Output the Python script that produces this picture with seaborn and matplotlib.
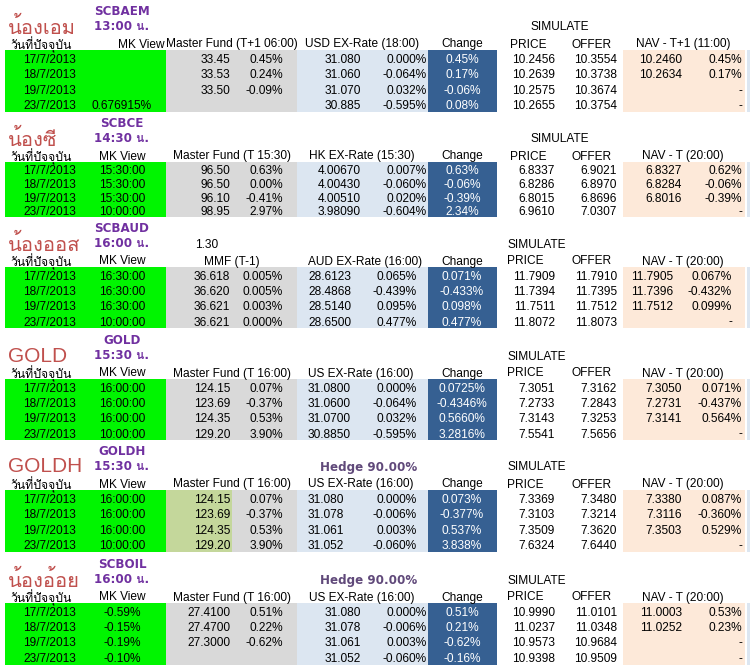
import matplotlib
matplotlib.use("Agg")
import matplotlib.pyplot as plt
from matplotlib.patches import Rectangle
import seaborn as sns

# ---- data ----
dates = ["17/7/2013", "18/7/2013", "19/7/2013", "23/7/2013"]

names = ["น้องเอม", "น้องซี", "น้องออส", "GOLD", "GOLDH", "น้องอ้อย"]
codes = ["SCBAEM", "SCBCE", "SCBAUD", "GOLD", "GOLDH", "SCBOIL"]
cut_times = ["13:00 น.", "14:30 น.", "16:00 น.", "15:30 น.", "15:30 น.", "16:00 น."]
mf_headers = ["Master Fund (T+1 06:00)", "Master Fund (T 15:30)", "MMF (T-1)",
              "Master Fund (T 16:00)", "Master Fund (T 16:00)", "Master Fund (T 16:00)"]
fx_headers = ["USD EX-Rate (18:00)", "HK EX-Rate (15:30)", "AUD EX-Rate (16:00)",
              "US EX-Rate (16:00)", "US EX-Rate (16:00)", "US EX-Rate (16:00)"]
nav_headers = ["NAV - T+1 (11:00)", "NAV - T (20:00)", "NAV - T (20:00)",
               "NAV - T (20:00)", "NAV - T (20:00)", "NAV - T (20:00)"]
extra_notes = ["", "", "1.30", "", "Hedge 90.00%", "Hedge 90.00%"]

aem_mk = ["", "", "", "0.676915%"]
aem_mf = ["33.45", "33.53", "33.50", ""]
aem_mf_pct = ["0.45%", "0.24%", "-0.09%", ""]
aem_fx = ["31.080", "31.060", "31.070", "30.885"]
aem_fx_pct = ["0.000%", "-0.064%", "0.032%", "-0.595%"]
aem_chg = ["0.45%", "0.17%", "-0.06%", "0.08%"]
aem_price = ["10.2456", "10.2639", "10.2575", "10.2655"]
aem_offer = ["10.3554", "10.3738", "10.3674", "10.3754"]
aem_nav = ["10.2460", "10.2634", "", ""]
aem_nav_pct = ["0.45%", "0.17%", "-", "-"]

ce_mk = ["15:30:00", "15:30:00", "15:30:00", "10:00:00"]
ce_mf = ["96.50", "96.50", "96.10", "98.95"]
ce_mf_pct = ["0.63%", "0.00%", "-0.41%", "2.97%"]
ce_fx = ["4.00670", "4.00430", "4.00510", "3.98090"]
ce_fx_pct = ["0.007%", "-0.060%", "0.020%", "-0.604%"]
ce_chg = ["0.63%", "-0.06%", "-0.39%", "2.34%"]
ce_price = ["6.8337", "6.8286", "6.8015", "6.9610"]
ce_offer = ["6.9021", "6.8970", "6.8696", "7.0307"]
ce_nav = ["6.8327", "6.8284", "6.8016", ""]
ce_nav_pct = ["0.62%", "-0.06%", "-0.39%", "-"]

aud_mk = ["16:30:00", "16:30:00", "16:30:00", "10:00:00"]
aud_mf = ["36.618", "36.620", "36.621", "36.621"]
aud_mf_pct = ["0.005%", "0.005%", "0.003%", "0.000%"]
aud_fx = ["28.6123", "28.4868", "28.5140", "28.6500"]
aud_fx_pct = ["0.065%", "-0.439%", "0.095%", "0.477%"]
aud_chg = ["0.071%", "-0.433%", "0.098%", "0.477%"]
aud_price = ["11.7909", "11.7394", "11.7511", "11.8072"]
aud_offer = ["11.7910", "11.7395", "11.7512", "11.8073"]
aud_nav = ["11.7905", "11.7396", "11.7512", ""]
aud_nav_pct = ["0.067%", "-0.432%", "0.099%", "-"]

gold_mk = ["16:00:00", "16:00:00", "16:00:00", "10:00:00"]
gold_mf = ["124.15", "123.69", "124.35", "129.20"]
gold_mf_pct = ["0.07%", "-0.37%", "0.53%", "3.90%"]
gold_fx = ["31.0800", "31.0600", "31.0700", "30.8850"]
gold_fx_pct = ["0.000%", "-0.064%", "0.032%", "-0.595%"]
gold_chg = ["0.0725%", "-0.4346%", "0.5660%", "3.2816%"]
gold_price = ["7.3051", "7.2733", "7.3143", "7.5541"]
gold_offer = ["7.3162", "7.2843", "7.3253", "7.5656"]
gold_nav = ["7.3050", "7.2731", "7.3141", ""]
gold_nav_pct = ["0.071%", "-0.437%", "0.564%", "-"]

goldh_mk = ["16:00:00", "16:00:00", "16:00:00", "10:00:00"]
goldh_mf = ["124.15", "123.69", "124.35", "129.20"]
goldh_mf_pct = ["0.07%", "-0.37%", "0.53%", "3.90%"]
goldh_fx = ["31.080", "31.078", "31.061", "31.052"]
goldh_fx_pct = ["0.000%", "-0.006%", "0.003%", "-0.060%"]
goldh_chg = ["0.073%", "-0.377%", "0.537%", "3.838%"]
goldh_price = ["7.3369", "7.3103", "7.3509", "7.6324"]
goldh_offer = ["7.3480", "7.3214", "7.3620", "7.6440"]
goldh_nav = ["7.3380", "7.3116", "7.3503", ""]
goldh_nav_pct = ["0.087%", "-0.360%", "0.529%", "-"]

oil_mk = ["-0.59%", "-0.15%", "-0.19%", "-0.10%"]
oil_mf = ["27.4100", "27.4700", "27.3000", ""]
oil_mf_pct = ["0.51%", "0.22%", "-0.62%", ""]
oil_fx = ["31.080", "31.078", "31.061", "31.052"]
oil_fx_pct = ["0.000%", "-0.006%", "0.003%", "-0.060%"]
oil_chg = ["0.51%", "0.21%", "-0.62%", "-0.16%"]
oil_price = ["10.9990", "11.0237", "10.9573", "10.9398"]
oil_offer = ["11.0101", "11.0348", "10.9684", "10.9509"]
oil_nav = ["11.0003", "11.0252", "", ""]
oil_nav_pct = ["0.53%", "0.23%", "-", "-"]

tables = [
    (aem_mk, aem_mf, aem_mf_pct, aem_fx, aem_fx_pct, aem_chg, aem_price, aem_offer, aem_nav, aem_nav_pct),
    (ce_mk, ce_mf, ce_mf_pct, ce_fx, ce_fx_pct, ce_chg, ce_price, ce_offer, ce_nav, ce_nav_pct),
    (aud_mk, aud_mf, aud_mf_pct, aud_fx, aud_fx_pct, aud_chg, aud_price, aud_offer, aud_nav, aud_nav_pct),
    (gold_mk, gold_mf, gold_mf_pct, gold_fx, gold_fx_pct, gold_chg, gold_price, gold_offer, gold_nav, gold_nav_pct),
    (goldh_mk, goldh_mf, goldh_mf_pct, goldh_fx, goldh_fx_pct, goldh_chg, goldh_price, goldh_offer, goldh_nav, goldh_nav_pct),
    (oil_mk, oil_mf, oil_mf_pct, oil_fx, oil_fx_pct, oil_chg, oil_price, oil_offer, oil_nav, oil_nav_pct),
]

# ---- layout (pixel grid of the sheet) ----
block_tops = [50, 162, 267, 379, 490, 603]
row_heights = [15.5, 13.8, 15.3, 15.3, 15.4, 15.4]

GREEN = "#00f500"
GRAY = "#d9d9d9"
LBLUE = "#dce6f1"
DBLUE = "#366092"
PEACH = "#fde9d9"
OLIVE = "#c4d79b"
RED = "#c0504d"
PURPLE = "#7030a0"
HEDGE = "#60497a"

sns.set_theme(style="white")
plt.rcParams["font.family"] = ["Liberation Sans", "Loma", "DejaVu Sans"]
THAI = ["Loma", "Noto Sans Thai Looped", "DejaVu Sans"]
FS = 8.6

fig = plt.figure(figsize=(7.5, 6.69), dpi=100)
ax = fig.add_axes([0, 0, 1, 1])
ax.set_xlim(0, 750)
ax.set_ylim(669, 0)
ax.axis("off")
sns.despine(ax=ax, left=True, bottom=True)


def cell(x0, x1, y0, y1, color):
    ax.add_patch(Rectangle((x0, y0), x1 - x0, y1 - y0, facecolor=color,
                           edgecolor="none", zorder=1))


def put(x, y, s, ha="left", color="black", size=FS, **kw):
    if s:
        ax.text(x, y, s, ha=ha, va="center_baseline", color=color,
                fontsize=size, zorder=3, **kw)


for k in range(6):
    top = block_tops[k]
    rh = row_heights[k]
    bottom = top + 4 * rh
    mk, mf, mf_pct, fx, fx_pct, chg, price, offer, nav, nav_pct = tables[k]
    wide = k in (2, 3, 4)  # sheets where FX columns are left aligned

    # coloured blocks
    cell(5, 166, top, bottom, GREEN)
    if k == 4:
        cell(166, 232, top, bottom, OLIVE)
        cell(232, 297, top, bottom, GRAY)
    else:
        cell(166, 297, top, bottom, GRAY)
    cell(297, 428, top, bottom, LBLUE)
    cell(428, 497, top, bottom, DBLUE)
    cell(623, 745, top, bottom, PEACH)
    cell(747, 750, top, bottom, LBLUE)

    # titles
    name_fam = THAI if k not in (3, 4) else ["Liberation Sans"]
    put(8, top - 25, names[k], color=RED, size=15 if k in (3, 4) else 14.5,
        family=name_fam)
    put(122, top - 40, codes[k], ha="center", color=PURPLE, size=8.6,
        weight="bold", family=["DejaVu Sans"])
    put(122, top - 25, cut_times[k], ha="center", color=PURPLE, size=8.6,
        weight="bold", family=["DejaVu Sans", "Loma"])
    if extra_notes[k].startswith("Hedge"):
        put(369, top - 24, extra_notes[k], ha="center", color=HEDGE, size=8.6,
            weight="bold", family=["DejaVu Sans"])
    elif extra_notes[k]:
        put(195, top - 23, extra_notes[k])

    # header row
    hy = top - 7
    put(41, hy, "วันที่ปัจจุบัน", ha="center", size=8.8, family=THAI)
    if k == 0:
        put(165, hy, "MK View", ha="right")
    else:
        put(122, hy, "MK View", ha="center")
    put(232, hy, mf_headers[k], ha="center")
    if wide:
        put(308, hy, fx_headers[k])
    else:
        put(362, hy, fx_headers[k], ha="center")
    put(462, hy, "Change", ha="center")
    if k < 2:
        put(560, top - 25, "SIMULATE", ha="center")
        put(528, hy, "PRICE", ha="center")
    else:
        put(507, top - 24, "SIMULATE")
        put(507, hy, "PRICE")
    put(592, hy, "OFFER", ha="center")
    put(683, hy, nav_headers[k], ha="center")

    # data rows
    for i in range(4):
        y = top + rh * (i + 0.5) + 0.5
        put(76, y, dates[i], ha="right")
        put(122, y, mk[i], ha="center")
        put(230, y, mf[i], ha="right")
        put(283, y, mf_pct[i], ha="right")
        if wide:
            put(308, y, fx[i])
            put(417, y, fx_pct[i], ha="right")
        else:
            put(361, y, fx[i], ha="right")
            put(427, y, fx_pct[i], ha="right")
        put(462, y, chg[i], ha="center", color="white")
        put(555, y, price[i], ha="right")
        put(617, y, offer[i], ha="right")
        if k == 2:
            put(673, y, nav[i], ha="right")
            put(732, y, nav_pct[i], ha="right")
        else:
            put(682, y, nav[i], ha="right")
            put(742, y, nav_pct[i], ha="right")

fig.savefig("out.png", dpi=100)
